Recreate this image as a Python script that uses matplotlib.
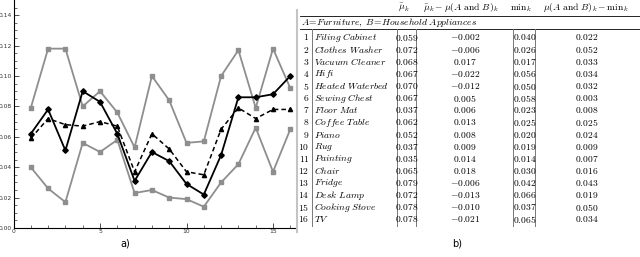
import matplotlib.pyplot as plt
import numpy as np

plt.rcParams['mathtext.fontset'] = 'cm'

# serie superior (max), inferior (min), mu(A and B) y media
k = np.arange(1, 17)
max_k = [0.079, 0.118, 0.118, 0.080, 0.090, 0.076, 0.053, 0.100, 0.084, 0.056,
         0.057, 0.100, 0.117, 0.079, 0.118, 0.092]
min_k = [0.040, 0.026, 0.017, 0.056, 0.050, 0.058, 0.023, 0.025, 0.020, 0.019,
         0.014, 0.030, 0.042, 0.066, 0.037, 0.065]
mu_ab = [0.062, 0.078, 0.051, 0.090, 0.083, 0.062, 0.031, 0.050, 0.044, 0.029,
         0.022, 0.048, 0.086, 0.086, 0.088, 0.100]
mu_bar = [0.059, 0.072, 0.068, 0.067, 0.070, 0.067, 0.037, 0.062, 0.052, 0.037,
          0.035, 0.065, 0.079, 0.072, 0.078, 0.078]

# tabla
nombres = ["Filing Cabinet", "Clothes Washer", "Vacuum Cleaner", "Hifi",
           "Heated Waterbed", "Sewing Chest", "Floor Mat", "Coffee Table",
           "Piano", "Rug", "Painting", "Chair", "Fridge", "Desk Lamp",
           "Cooking Stove", "TV"]
col_mu = ["0.059", "0.072", "0.068", "0.067", "0.070", "0.067", "0.037", "0.062",
          "0.052", "0.037", "0.035", "0.065", "0.079", "0.072", "0.078", "0.078"]
col_diff = ["-0.002", "-0.006", "0.017", "-0.022", "-0.012", "0.005", "0.006", "0.013",
            "0.008", "0.009", "0.014", "0.018", "-0.006", "-0.013", "-0.010", "-0.021"]
col_min = ["0.040", "0.026", "0.017", "0.056", "0.050", "0.058", "0.023", "0.025",
           "0.020", "0.019", "0.014", "0.030", "0.042", "0.066", "0.037", "0.065"]
col_gap = ["0.022", "0.052", "0.033", "0.034", "0.032", "0.003", "0.008", "0.025",
           "0.024", "0.009", "0.007", "0.016", "0.043", "0.019", "0.050", "0.034"]
cabeceras = [r"$\bar{\mu}_k$", r"$\bar{\mu}_k-\mu(A\ \mathrm{and}\ B)_k$",
             r"$\mathrm{min}_k$", r"$\mu(A\ \mathrm{and}\ B)_k-\mathrm{min}_k$"]

fig = plt.figure(figsize=(6.4, 2.57), dpi=100)

# ---- a) grafico
ax = fig.add_axes([13.5 / 640, 29 / 257, 282 / 640, 228 / 257])
gris = '#8e8e8e'
ax.plot(k, max_k, '-s', color=gris, lw=1.3, ms=2.5)
ax.plot(k, min_k, '-s', color=gris, lw=1.3, ms=2.5)
ax.plot(k, mu_bar, '--^', color='black', lw=1.1, ms=3, dashes=(3, 2))
ax.plot(k, mu_ab, '-D', color='black', lw=1.3, ms=2.8)
ax.set_xlim(0, 16.3)
ax.set_ylim(0, 0.15)
ax.spines['top'].set_visible(False)
ax.spines['right'].set_visible(False)
ax.set_xticks([0, 5, 10, 15])
ax.set_xticks(range(0, 17), minor=True)
ax.set_yticks(np.arange(0, 0.141, 0.02))
ax.set_yticks(np.arange(0, 0.15, 0.005), minor=True)
ax.set_yticklabels(["%.2f" % v for v in np.arange(0, 0.141, 0.02)])
ax.tick_params(which='both', direction='in', labelsize=4.3, colors='#333333', pad=1)
ax.tick_params(which='major', length=3.5, width=0.6)
ax.tick_params(which='minor', length=2, width=0.5)
ax.patch.set_alpha(0)
fig.text(125 / 640, 1 - 243 / 257, "a)", fontsize=7, ha='center', va='center')

# barra gris a la izquierda de la tabla
fig.add_artist(plt.Line2D([297 / 640, 297 / 640], [1 - 10 / 257, 1 - 232 / 257],
                          color='#c4c4c4', lw=1.5))

# ---- b) tabla, coordenadas en pixeles
tb = fig.add_axes([300 / 640, 0, 340 / 640, 1])
tb.set_xlim(300, 640)
tb.set_ylim(257, 0)
tb.axis('off')
fs = 6.9
cab_x = [404, 461, 521, 586]
for x, c in zip(cab_x, cabeceras):
    tb.text(x, 8, c, fontsize=fs, ha='center', va='center')
tb.plot([300, 640], [16, 16], color='black', lw=0.6)
tb.text(301, 22.5, r"$A\!=\!\mathit{Furniture},\ B\!=\!\mathit{Household\ Appliances}$",
        fontsize=fs, ha='left', va='center')
tb.plot([300, 640], [29, 29], color='black', lw=0.6)
for xv in [311.5, 397, 416, 513, 535]:
    tb.plot([xv, xv], [29, 226], color='#777777', lw=0.7)
y0, dy = 37.5, 12.13
for i in range(16):
    y = y0 + i * dy
    tb.text(309.5, y, "$%d$" % (i + 1), fontsize=fs, ha='right', va='center')
    tb.text(314, y, r"$\mathit{%s}$" % nombres[i].replace(" ", r"\ "), fontsize=fs,
            ha='left', va='center')
    tb.text(406.5, y, "$%s$" % col_mu[i], fontsize=fs, ha='center', va='center')
    tb.text(465, y, "$%s$" % col_diff[i], fontsize=fs, ha='center', va='center')
    tb.text(524.5, y, "$%s$" % col_min[i], fontsize=fs, ha='center', va='center')
    tb.text(587, y, "$%s$" % col_gap[i], fontsize=fs, ha='center', va='center')
fig.text(457 / 640, 1 - 243 / 257, "b)", fontsize=7, ha='center', va='center')

fig.savefig("out.png", dpi=100)
